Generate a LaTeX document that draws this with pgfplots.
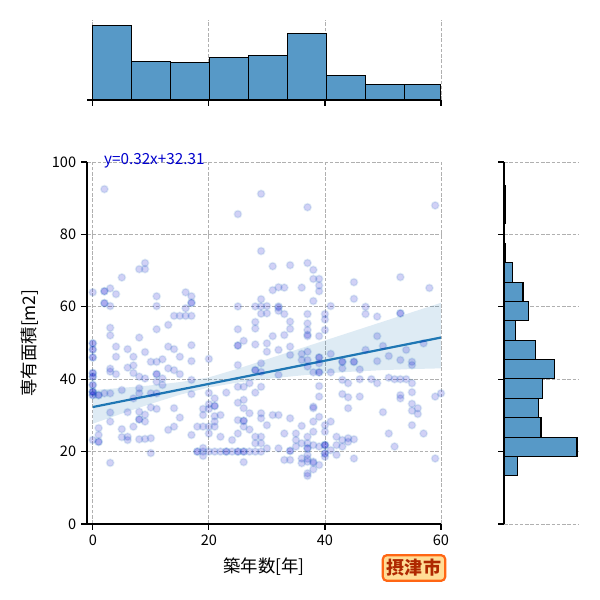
\documentclass[border=0pt]{standalone}
\usepackage{pgfplots}
\pgfplotsset{compat=1.18}
\usepackage{fontspec}
\setmainfont{Noto Sans CJK JP}

\definecolor{mblue}{RGB}{0,0,205}
\definecolor{czero}{RGB}{31,119,180}
\definecolor{histc}{RGB}{87,153,199}
\definecolor{gridc}{RGB}{176,176,176}
\definecolor{tagfill}{RGB}{255,221,150}
\definecolor{tagdraw}{RGB}{255,102,20}
\definecolor{tagtext}{RGB}{175,40,0}

\pgfplotsset{
  jstyle/.style={
    scale only axis,
    /pgf/number format/assume math mode=true,
    ticklabel style={font=\fontsize{10.5bp}{12bp}\selectfont},
    axis line style={line width=0.9bp},
    every tick/.style={black, line width=0.9bp},
    major tick length=4.3bp,
    tick align=outside,
    grid style={gridc, dash pattern=on 2.6bp off 1.2bp, line width=0.6bp},
  }
}

\begin{document}
\begin{tikzpicture}
\path[use as bounding box] (0,0) rectangle (432bp,432bp);

% main scatter
\begin{axis}[jstyle,
  at={(62.64bp,54.72bp)}, anchor=south west,
  width=254.88bp, height=260.64bp,
  xmin=-1, xmax=60, ymin=0, ymax=100,
  axis x line*=bottom, axis y line*=left,
  xtick={0,20,40,60}, ytick={0,20,40,60,80,100},
  grid=major,
  xlabel={築年数[年]}, ylabel={専有面積[m2]},
  label style={font=\fontsize{12.5bp}{14bp}\selectfont},
  xlabel style={at={(axis description cs:0.5,-0.119)}, anchor=center},
  ylabel style={at={(axis description cs:-0.161,0.5)}, anchor=center},
  clip=false,
]
\addplot[draw=none, fill=czero, fill opacity=0.15, forget plot] coordinates {
(0,37.0) (5,37.6) (10,38.3) (15,39.2) (20,40.5) (25,42.9) (30,45.5) (35,48.1)
(40,50.7) (45,53.3) (50,55.9) (55,58.5) (60,61.1)
(60,43.0) (55,42.8) (50,42.5) (45,42.1) (40,41.6) (35,40.9) (30,40.1) (25,39.1)
(20,37.7) (15,35.7) (10,33.2) (5,30.5) (0,27.7)} --cycle;

\addplot[only marks, mark=*, mark size=2.6bp,
  mark options={fill=mblue, fill opacity=0.18, draw=czero, draw opacity=0.12, line width=1.2bp}]
coordinates {
(0,64) (0,49.9) (0,48.2) (0,46.0) (0,41.7) (0,40.7) (0,38.4) (0,36.5) (0,35.6) (0,23.2)
(0,49.9) (0,48.2) (0,46.0) (0,41.7) (0,40.7) (0,38.4) (0,36.5) (0,36.5) (0,35.6)
(1,35.6) (1,35.6) (1,26.5) (1,24.6) (1,22.7) (1,22.7)
(2,92.5) (2,64.3) (2,64.3) (2,61) (2,61) (2,36.1)
(3,65.1) (3,60.2) (3,54.2) (3,52.1) (3,42.9) (3,42.1) (3,36.1) (3,30.8) (3,28.3) (3,16.9)
(4,63.5) (4,49) (4,46.2) (4,41.4)
(5,68.1) (5,37) (5,26.2) (5,24)
(6,48.3) (6,43.2) (6,30.9) (6,24.1) (6,23.2)
(7,46.2) (7,43.8) (7,41.7) (7,34.7) (7,26.9)
(8,70.4) (8,51.5) (8,40.7) (8,37.5) (8,36.1) (8,31) (8,28.9) (8,28.9) (8,23.4)
(9,72.1) (9,70.4) (9,47.5) (9,40.2) (9,30.2) (9,28.3) (9,23.5)
(10,44.8) (10,36.1) (10,32.2) (10,23.7) (10,19.6)
(11,62.9) (11,60.2) (11,53.8) (11,44.8) (11,41.4) (11,41.4) (11,39.3) (11,36.1) (11,31.8)
(12,45.5) (12,40.2) (12,38.4)
(13,55) (13,49) (13,43) (13,26)
(14,57.5) (14,48.3) (14,42.5) (14,32) (14,26.9)
(15,57.5) (15,46.2) (15,41.4) (15,29.4)
(16,64) (16,59.6) (16,57.5)
(17,62.9) (17,61.1) (17,61.1) (17,57.5) (17,49.4) (17,45) (17,39.8) (17,35.9) (17,24.6)
(18,26.9) (18,20) (18,20)
(19,31.8) (19,30.1) (19,26.9) (19,20) (19,21) (19,18.8)
(20,45.6) (20,36.2) (20,33.1) (20,31.8) (20,26.9) (20,25) (20,20)
(21,34.7) (21,32.6) (21,32.6) (21,29.8) (21,28.3) (21,26.9) (21,20)
(22,30.1) (22,24.1) (22,20)
(23,36.3) (23,20) (23,20)
(24,23.2) (24,20)
(25,85.6) (25,60.1) (25,53.8) (25,49.3) (25,49.3) (25,43.9) (25,37.9) (25,33.5) (25,28.7) (25,25) (25,20) (25,20)
(26,50.6) (26,37.9) (26,34.3) (26,32) (26,28.5) (26,28.5) (26,26.9) (26,20) (26,20) (26,17.1)
(27,38.9) (27,30.6) (27,26.1) (27,20)
(28,60.1) (28,55.8) (28,54) (28,49.6) (28,42.5) (28,42.5) (28,36.3) (28,24.1) (28,22.3) (28,20)
(29,91.2) (29,75.4) (29,62.1) (29,60.1) (29,58.1) (29,44.4) (29,42) (29,37.9) (29,30.6) (29,29.2) (29,24.1) (29,22.3) (29,20)
(30,60.2) (30,58.2) (30,49.9) (30,47.6) (30,27.3) (30,20.9)
(31,71.2) (31,64.6) (31,51.9) (31,30.1)
(32,65.4) (32,60.1) (32,59.8) (32,58.9) (32,48.1) (32,41.2) (32,30.1) (32,20.9)
(33,65.3) (33,58) (33,52.2) (33,25) (33,17.7)
(34,71.5) (34,55.9) (34,53.9) (34,49) (34,46.7) (34,29.2) (34,20.2) (34,20.2) (34,17.7)
(35,25) (35,23.2) (35,21.4)
(36,65.3) (36,47) (36,45.3) (36,27.1) (36,22.3) (36,18.1) (36,16.8)
(37,87.5) (37,72.1) (37,58) (37,55.4) (37,53.6) (37,52.3) (37,51.9) (37,47.6) (37,45.3) (37,43.5)
(37,24.1) (37,22.3) (37,20.9) (37,20.9) (37,19.1) (37,18) (37,17.2) (37,14) (37,13.3)
(38,70.2) (38,67.7) (38,61.6) (38,41.9) (38,32.4) (38,32) (38,28.3) (38,25.5) (38,21.8) (38,17.2) (38,16.9) (38,15.1)
(39,67.7) (39,65.9) (39,64.3) (39,51.9) (39,46) (39,46) (39,44.4) (39,41.9) (39,41.9) (39,38.1) (39,35.2) (39,29.6) (39,21.4) (39,16.3)
(40,58) (40,56.5) (40,53.6) (40,27.3) (40,25.5) (40,21.8) (40,21.8) (40,21.8) (40,19.5) (40,19.5) (40,18.6)
(41,60.2) (41,47) (41,41.9) (41,28.3) (41,20.4)
(42,24.1) (42,21.8) (42,19.1)
(43,44.8) (43,44.8) (43,43) (43,39.8) (43,35.9) (43,23.2) (43,21.4)
(44,38.9) (44,35) (44,32) (44,23.7) (44,22.7)
(45,66.8) (45,62.2) (45,44.8) (45,44.8) (45,23.4) (45,18.1)
(46,42.7) (46,40) (46,35.2)
(47,60) (47,58) (47,48.1)
(48,40)
(49,57.3) (49,51.9) (49,45) (49,38.9)
(50,49.2) (50,30.9)
(51,46.4) (51,40.4) (51,25)
(52,40) (52,21.4)
(53,68.2) (53,58.2) (53,58.2) (53,45.3) (53,40) (53,35.6) (53,34.7)
(54,48.1) (54,40)
(55,44.8) (55,43.9) (55,38.9) (55,36.4) (55,33.2) (55,31.3) (55,27.3)
(56,32) (56,30.4)
(57,49.9) (57,25)
(58,65.2)
(59,88) (59,35.2) (59,18.1)
(60,36.1)
};

\addplot[czero, line width=1.6bp] coordinates {(0,32.31) (60,51.51)};

\node[anchor=west, text=mblue, font=\fontsize{11bp}{13bp}\selectfont, inner sep=0pt]
  at (axis cs:1.9,100.3) {y=0.32x+32.31};
\end{axis}

% top marginal histogram
\begin{axis}[jstyle,
  at={(62.64bp,360bp)}, anchor=south west,
  width=254.88bp, height=57.6bp,
  xmin=-1, xmax=60, ymin=0, ymax=84,
  axis x line*=bottom, axis y line=none,
  xtick={0,20,40,60}, xticklabels={}, ytick=\empty,
  xmajorgrids,
]
\addplot[ybar interval, fill=histc, draw=black, line width=0.8bp] coordinates {
(0,78) (6.72,40) (13.44,39) (20.17,45) (26.89,47) (33.61,70) (40.33,26) (47.06,16) (53.78,16) (60,16)};
\end{axis}

% right marginal histogram
\begin{axis}[jstyle,
  at={(362.88bp,54.72bp)}, anchor=south west,
  width=53.28bp, height=260.64bp,
  xmin=0, xmax=78, ymin=0, ymax=100,
  axis y line*=left, axis x line=none,
  ytick={0,20,40,60,80,100}, yticklabels={}, xtick=\empty,
  ymajorgrids,
]
\addplot[xbar interval, fill=histc, draw=black, line width=0.8bp] coordinates {
(14,13.30) (77,18.65) (39,24.01) (36,29.36) (41,34.71) (53,40.07) (33,45.42) (12,50.77)
(26,56.12) (20,61.48) (9,66.83) (1,72.18) (0,77.54) (2,82.89) (2,88.24) (2,93.60)};
\end{axis}

\node[draw=tagdraw, fill=tagfill, line width=1.6bp, rounded corners=3bp,
  text=tagtext, font=\fontsize{13bp}{15bp}\selectfont\bfseries, inner sep=3bp]
  at (298.08bp,23.04bp) {摂津市};
\end{tikzpicture}
\end{document}
